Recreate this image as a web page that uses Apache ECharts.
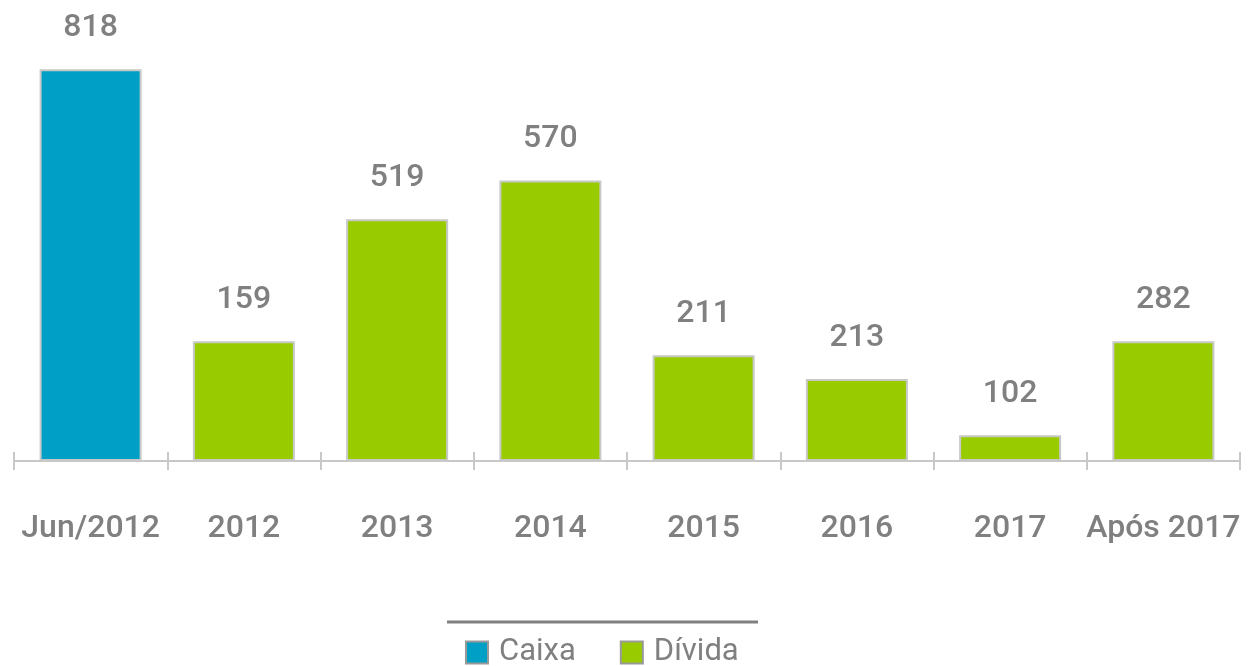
<!DOCTYPE html>
<html>
<head>
	<meta charset="utf-8">
	<title>Caixa x Dívida</title>
	<style>
		html, body{ margin:0; padding:0; background:#fff; }
		#chart{ width:1251px; height:666px; }
	</style>
</head>
<body>
<div id="chart"></div>
<script src="https://cdn.jsdelivr.net/npm/echarts@6/dist/echarts.min.js"></script>
<script>
	// categorias e valores
	var categories = ['Jun/2012', '2012', '2013', '2014', '2015', '2016', '2017', 'Após 2017'];
	// rótulos impressos sobre as barras
	var labelValues = [818, 159, 519, 570, 211, 213, 102, 282];
	// altura das barras como aparecem na imagem (na mesma escala do 818)
	var caixaHeights  = [818, '-', '-', '-', '-', '-', '-', '-'];
	var dividaHeights = ['-', 250, 505, 586, 221, 171, 54, 250];
	var seriesNames = ['Caixa', 'Dívida'];

	var gray = '#808080';

	function valueLabel(p){
		return labelValues[p.dataIndex];
	}

	var labelCfg = {
		show: true,
		position: 'top',
		distance: 25,
		color: gray,
		fontFamily: 'Roboto',
		fontWeight: 500,
		fontSize: 32,
		formatter: valueLabel
	};

	var option = {
		animation: false,
		grid: {
			left: 14,
			right: 11,
			top: 54,
			bottom: 205
		},
		legend: {
			data: seriesNames,
			left: 465,
			top: 637,
			padding: 0,
			icon: 'rect',
			itemWidth: 22,
			itemHeight: 22,
			itemGap: 44,
			itemStyle: { borderColor: '#999999', borderWidth: 2 },
			textStyle: {
				color: gray,
				fontFamily: 'Roboto',
				fontSize: 31,
				lineHeight: 30,
				padding: [0, 0, 0, 6]
			}
		},
		xAxis: [
			{
				type: 'category',
				data: categories,
				axisLine: { lineStyle: { color: '#c8c8c8', width: 2 } },
				axisTick: { show: true, length: 9, lineStyle: { color: '#c8c8c8', width: 2 } },
				axisLabel: {
					margin: 52,
					color: gray,
					fontFamily: 'Roboto',
					fontWeight: 500,
					fontSize: 32,
					interval: 0
				}
			},
			{
				// segundo eixo só para os traços acima da linha
				type: 'category',
				data: categories,
				position: 'bottom',
				axisLine: { show: false },
				axisTick: { show: true, inside: true, length: 9, lineStyle: { color: '#c8c8c8', width: 2 } },
				axisLabel: { show: false }
			}
		],
		yAxis: {
			type: 'value',
			min: 0,
			max: 850,
			show: false
		},
		series: [
			{
				name: seriesNames[0],
				type: 'bar',
				stack: 'total',
				barWidth: 102,
				data: caixaHeights,
				itemStyle: { color: '#00a0c6', borderColor: '#c8c8c8', borderWidth: 2 },
				label: labelCfg
			},
			{
				name: seriesNames[1],
				type: 'bar',
				stack: 'total',
				barWidth: 102,
				data: dividaHeights,
				itemStyle: { color: '#99cc00', borderColor: '#c8c8c8', borderWidth: 2 },
				label: labelCfg
			}
		],
		graphic: [
			{
				type: 'line',
				shape: { x1: 447, y1: 622, x2: 758, y2: 622 },
				style: { stroke: gray, lineWidth: 3 }
			}
		]
	};

	var myChart = echarts.init(document.getElementById('chart'));
	myChart.setOption(option);
</script>
</body>
</html>
